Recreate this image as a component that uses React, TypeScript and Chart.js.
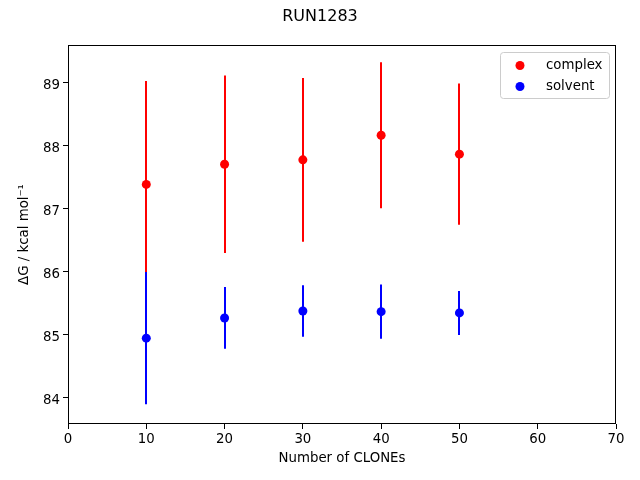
import React, { useEffect, useRef } from 'react';
import { Chart, registerables } from 'chart.js';
Chart.register(...registerables);

const chartTitle = 'RUN1283';
const clones = [10, 20, 30, 40, 50];
const complexMean = [87.39, 87.71, 87.78, 88.17, 87.87];
const complexErr = [1.64, 1.41, 1.3, 1.16, 1.12];
const solventMean = [84.95, 85.27, 85.38, 85.37, 85.35];
const solventErr = [1.05, 0.49, 0.41, 0.43, 0.35];
const xTicks = [0, 10, 20, 30, 40, 50, 60, 70];
const yTicks = [84, 85, 86, 87, 88, 89];
const seriesLabels = ['complex', 'solvent'];
const seriesColors = ['#ff0000', '#0000ff'];

const FONT = 'DejaVu Sans';

const errorBarPlugin = {
  id: 'errorBars',
  beforeDatasetDraw(chart: any, args: any) {
    const ds = chart.data.datasets[args.index];
    const errs: number[] = ds.errors;
    if (!errs) return;
    const { ctx, chartArea } = chart;
    const xs = chart.scales.x;
    const ys = chart.scales.y;
    ctx.save();
    ctx.beginPath();
    ctx.rect(chartArea.left, chartArea.top, chartArea.right - chartArea.left, chartArea.bottom - chartArea.top);
    ctx.clip();
    ctx.strokeStyle = ds.backgroundColor;
    ctx.lineWidth = 2;
    ctx.lineCap = 'butt';
    ds.data.forEach((p: any, i: number) => {
      const px = Math.round(xs.getPixelForValue(p.x));
      const y1 = ys.getPixelForValue(p.y + errs[i]);
      const y2 = ys.getPixelForValue(p.y - errs[i]);
      ctx.beginPath();
      ctx.moveTo(px, y1);
      ctx.lineTo(px, y2);
      ctx.stroke();
    });
    ctx.restore();
  },
};

const decorPlugin = {
  id: 'decor',
  afterDraw(chart: any) {
    const { ctx, chartArea } = chart;
    ctx.save();
    // frame
    ctx.strokeStyle = '#000';
    ctx.lineWidth = 1;
    ctx.strokeRect(
      Math.round(chartArea.left) + 0.5,
      Math.round(chartArea.top) + 0.5,
      Math.round(chartArea.right - chartArea.left) - 1,
      Math.round(chartArea.bottom - chartArea.top) - 1
    );
    // title
    ctx.fillStyle = '#000';
    ctx.font = `16px "${FONT}"`;
    ctx.textAlign = 'center';
    ctx.textBaseline = 'middle';
    ctx.fillText(chartTitle, 320, 17);
    // legend
    const bx = 500.5, by = 52.5, bw = 109, bh = 46, r = 3;
    ctx.beginPath();
    ctx.moveTo(bx + r, by);
    ctx.lineTo(bx + bw - r, by);
    ctx.arcTo(bx + bw, by, bx + bw, by + r, r);
    ctx.lineTo(bx + bw, by + bh - r);
    ctx.arcTo(bx + bw, by + bh, bx + bw - r, by + bh, r);
    ctx.lineTo(bx + r, by + bh);
    ctx.arcTo(bx, by + bh, bx, by + bh - r, r);
    ctx.lineTo(bx, by + r);
    ctx.arcTo(bx, by, bx + r, by, r);
    ctx.closePath();
    ctx.fillStyle = 'rgba(255,255,255,0.8)';
    ctx.fill();
    ctx.strokeStyle = '#cccccc';
    ctx.stroke();
    chart.data.datasets.forEach((ds: any, i: number) => {
      const y = 65.5 + i * 21;
      ctx.beginPath();
      ctx.arc(520, y, 4.5, 0, Math.PI * 2);
      ctx.fillStyle = ds.backgroundColor;
      ctx.fill();
      ctx.fillStyle = '#000';
      ctx.font = `13.33px "${FONT}"`;
      ctx.textAlign = 'left';
      ctx.textBaseline = 'middle';
      ctx.fillText(ds.label, 546, y);
    });
    ctx.restore();
  },
};

export default function App() {
  const ref = useRef<HTMLCanvasElement>(null);
  useEffect(() => {
    document.body.style.margin = '0';
    const canvas = ref.current!;
    const tickFont = { family: FONT, size: 13.33 };
    const chart = new Chart(canvas, {
      type: 'scatter',
      data: {
        datasets: [
          {
            label: seriesLabels[0],
            data: clones.map((c, i) => ({ x: c, y: complexMean[i] })),
            errors: complexErr,
            backgroundColor: seriesColors[0],
            borderColor: seriesColors[0],
            pointRadius: 4.5,
            borderWidth: 0,
            order: 1,
          } as any,
          {
            label: seriesLabels[1],
            data: clones.map((c, i) => ({ x: c, y: solventMean[i] })),
            errors: solventErr,
            backgroundColor: seriesColors[1],
            borderColor: seriesColors[1],
            pointRadius: 4.5,
            borderWidth: 0,
            order: 0,
          } as any,
        ],
      },
      options: {
        animation: false,
        responsive: false,
        devicePixelRatio: 1,
        layout: { padding: { top: 45, right: 24, left: 0, bottom: 0 } },
        plugins: {
          legend: { display: false },
          title: { display: false },
          tooltip: { enabled: false },
        },
        scales: {
          x: {
            type: 'linear',
            min: 0,
            max: 70,
            afterBuildTicks: (s: any) => {
              s.ticks = xTicks.map((v) => ({ value: v }));
            },
            afterFit: (s: any) => {
              s.height = 56;
            },
            grid: { display: true, drawOnChartArea: false, drawTicks: true, tickLength: 5, color: '#000' },
            border: { display: false },
            ticks: { font: tickFont, color: '#000', padding: 3, maxRotation: 0 },
            title: {
              display: true,
              text: 'Number of CLONEs',
              font: tickFont,
              color: '#000',
              padding: { top: 4, bottom: 13 },
            },
          },
          y: {
            type: 'linear',
            min: 83.587,
            max: 89.603,
            afterBuildTicks: (s: any) => {
              s.ticks = yTicks.map((v) => ({ value: v }));
            },
            afterFit: (s: any) => {
              s.width = 68;
            },
            grid: { display: true, drawOnChartArea: false, drawTicks: true, tickLength: 5, color: '#000' },
            border: { display: false },
            ticks: { font: tickFont, color: '#000', padding: 3, labelOffset: 3 },
            title: {
              display: true,
              text: 'ΔG / kcal mol⁻¹',
              font: tickFont,
              color: '#000',
              padding: { top: 17, bottom: 0 },
            },
          },
        },
      } as any,
      plugins: [errorBarPlugin, decorPlugin],
    });
    return () => chart.destroy();
  }, []);
  return (
    <div style={{ position: 'absolute', left: 0, top: 0, width: 640, height: 480, background: '#fff' }}>
      <canvas ref={ref} width={640} height={480} />
    </div>
  );
}
